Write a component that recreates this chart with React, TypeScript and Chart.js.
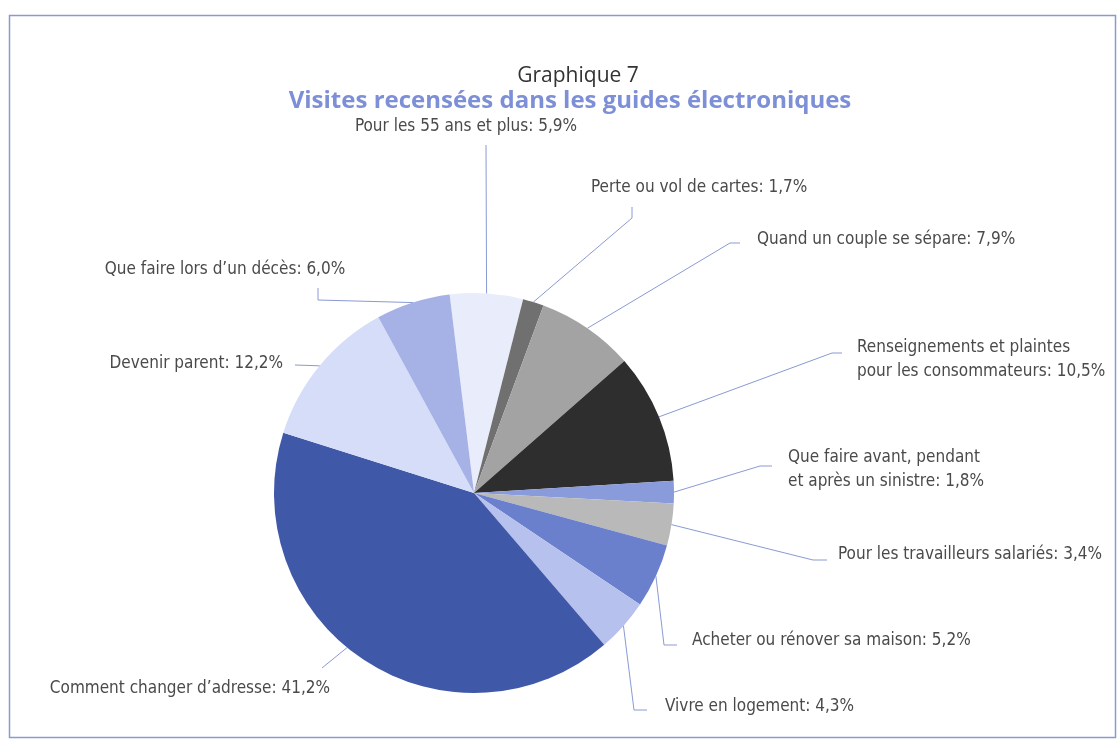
import React, { useEffect, useRef } from "react";
import { Chart, registerables } from "chart.js";

Chart.register(...registerables);

// ---------- data ----------
const categories = [
  "Pour les 55 ans et plus",
  "Perte ou vol de cartes",
  "Quand un couple se sépare",
  "Renseignements et plaintes\npour les consommateurs",
  "Que faire avant, pendant\net après un sinistre",
  "Pour les travailleurs salariés",
  "Acheter ou rénover sa maison",
  "Vivre en logement",
  "Comment changer d’adresse",
  "Devenir parent",
  "Que faire lors d’un décès",
];
const values = [5.9, 1.7, 7.9, 10.5, 1.8, 3.4, 5.2, 4.3, 41.2, 12.2, 6.0];
const sliceColors = [
  "#e9edfb",
  "#707070",
  "#a3a3a3",
  "#2e2e2e",
  "#8a9bdb",
  "#b9b9b9",
  "#6a80cc",
  "#b6c1ee",
  "#4058a8",
  "#d6ddf8",
  "#a6b2e6",
];
const titleText = "Graphique 7";
const subtitleText = "Visites recensées dans les guides électroniques";

// ---------- label layout (positions only) ----------
type LabelLayout = {
  x: number;
  y: number;
  align: CanvasTextAlign;
  frac: number;
  path: number[][];
};
const labelLayout: LabelLayout[] = [
  { x: 466, y: 127, align: "center", frac: 0.5, path: [[486, 145]] },
  { x: 591, y: 188, align: "left", frac: 0.5, path: [[632, 218], [632, 207]] },
  { x: 757, y: 240, align: "left", frac: 0.5, path: [[730, 243], [740, 243]] },
  { x: 857, y: 348, align: "left", frac: 0.5, path: [[832, 353], [842, 353]] },
  { x: 788, y: 458, align: "left", frac: 0.5, path: [[760, 466], [772, 466]] },
  { x: 838, y: 555, align: "left", frac: 0.5, path: [[813, 560], [827, 560]] },
  { x: 692, y: 641, align: "left", frac: 0.5, path: [[664, 645], [677, 645]] },
  { x: 665, y: 707, align: "left", frac: 0.5, path: [[634, 710], [647, 710]] },
  { x: 330, y: 689, align: "right", frac: 0.54, path: [[322, 668]] },
  { x: 283, y: 364, align: "right", frac: 0.5, path: [[295, 365]] },
  { x: 225, y: 270, align: "center", frac: 0.5, path: [[318, 300], [318, 288]] },
];

const LABEL_FONT = "17px 'Liberation Sans Narrow', 'DejaVu Sans Condensed', 'Roboto', sans-serif";
const LINE_COLOR = "#8a9ad4";
const TEXT_COLOR = "#4a4a4a";

const fmt = (v: number) => v.toFixed(1).replace(".", ",") + "%";

const outerLabels = {
  id: "outerLabels",
  beforeDraw(chart: any) {
    const ctx = chart.ctx;
    ctx.save();
    ctx.fillStyle = "#ffffff";
    ctx.fillRect(0, 0, chart.width, chart.height);
    ctx.strokeStyle = "#8a9ad0";
    ctx.lineWidth = 1.5;
    ctx.strokeRect(9.5, 15.5, 1106, 722);
    ctx.restore();
  },
  afterDatasetsDraw(chart: any) {
    const ctx = chart.ctx;
    const meta = chart.getDatasetMeta(0);
    ctx.save();
    meta.data.forEach((arc: any, i: number) => {
      const p = arc.getProps(["x", "y", "startAngle", "endAngle", "outerRadius"], true);
      const lay = labelLayout[i];
      const a = p.startAngle + (p.endAngle - p.startAngle) * lay.frac;
      const ax = p.x + Math.cos(a) * p.outerRadius;
      const ay = p.y + Math.sin(a) * p.outerRadius;
      ctx.strokeStyle = LINE_COLOR;
      ctx.lineWidth = 1;
      ctx.beginPath();
      ctx.moveTo(ax, ay);
      lay.path.forEach((pt) => ctx.lineTo(pt[0], pt[1]));
      ctx.stroke();

      const text = categories[i] + ": " + fmt(values[i]);
      const lines = text.split("\n");
      ctx.fillStyle = TEXT_COLOR;
      ctx.font = LABEL_FONT;
      ctx.textAlign = lay.align;
      ctx.textBaseline = "middle";
      lines.forEach((ln, k) => ctx.fillText(ln, lay.x, lay.y + k * 24));
    });

    ctx.textAlign = "center";
    ctx.textBaseline = "middle";
    ctx.fillStyle = "#333333";
    ctx.font = "21px 'Open Sans', sans-serif";
    ctx.fillText(titleText, 578, 76);
    ctx.fillStyle = "#7d8fd6";
    ctx.font = "bold 24px 'Open Sans', sans-serif";
    ctx.fillText(subtitleText, 570, 101);
    ctx.restore();
  },
};

export default function App() {
  const ref = useRef<HTMLCanvasElement | null>(null);
  useEffect(() => {
    if (!ref.current) return;
    const chart = new Chart(ref.current, {
      type: "pie",
      data: {
        labels: categories.map((c) => c.replace("\n", " ")),
        datasets: [
          {
            data: values,
            backgroundColor: sliceColors,
            borderWidth: 0,
          },
        ],
      },
      options: {
        animation: false,
        responsive: true,
        maintainAspectRatio: false,
        rotation: -7,
        layout: { padding: { left: 274, top: 293, right: 445, bottom: 50 } },
        plugins: {
          legend: { display: false },
          tooltip: { enabled: false },
          title: { display: false },
        },
      },
      plugins: [outerLabels],
    });
    return () => chart.destroy();
  }, []);
  return (
    <div style={{ position: "absolute", left: 0, top: 0, width: 1119, height: 743 }}>
      <canvas ref={ref} />
    </div>
  );
}
